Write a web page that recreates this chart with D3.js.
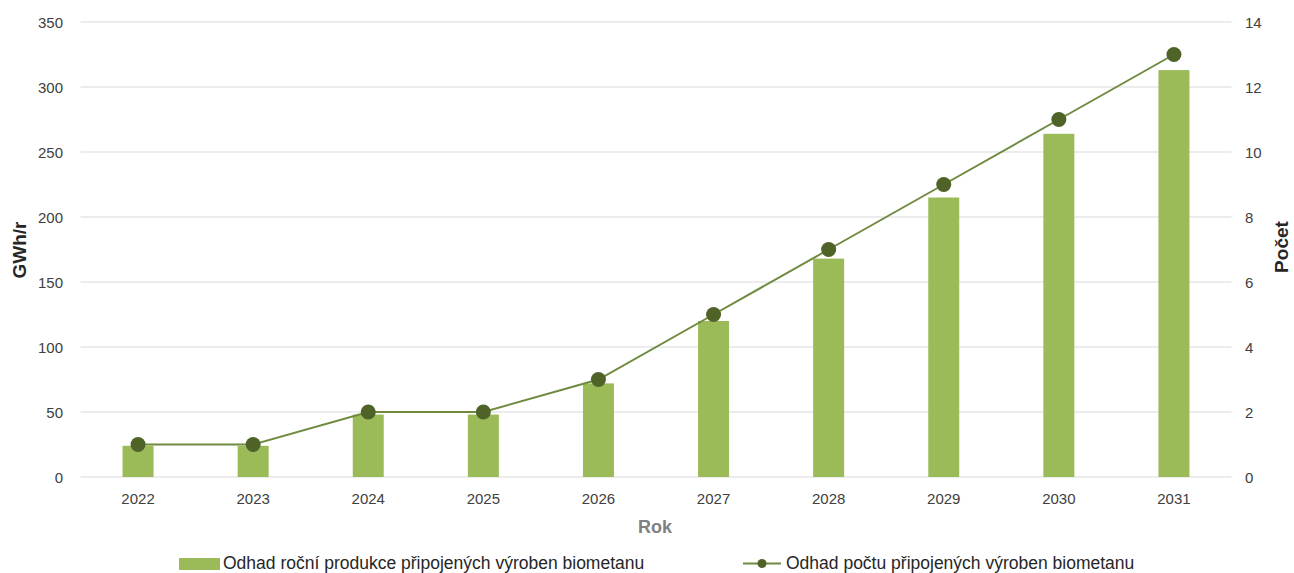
<!DOCTYPE html>
<html lang="cs">
<head>
<meta charset="UTF-8" />
<title>Biometan</title>
<script src="https://cdnjs.cloudflare.com/ajax/libs/d3/7.8.5/d3.min.js"></script>
<style>
  * { margin: 0; padding: 0; }
  body { background: #fff; font-family: 'Liberation Sans', Arial, sans-serif; }
  svg text { font-family: 'Liberation Sans', Arial, sans-serif; }
</style>
</head>
<body>
<svg id="chart" width="1294" height="573"></svg>
<script>
  // data
  const years = ["2022","2023","2024","2025","2026","2027","2028","2029","2030","2031"];
  const production = [24, 24, 48, 48, 72, 120, 168, 215, 264, 313];
  const plants = [1, 1, 2, 2, 3, 5, 7, 9, 11, 13];
  const leftTicks = [0, 50, 100, 150, 200, 250, 300, 350];
  const rightTicks = [0, 2, 4, 6, 8, 10, 12, 14];

  const barColor = "#9bbb59", lineColor = "#6f8a3e", dotColor = "#4f6228";
  const svg = d3.select("#chart");
  const m = {left: 80.5, right: 1231.5, top: 22, bottom: 477};

  const x = d3.scaleBand().domain(years).range([m.left, m.right]);
  const yL = d3.scaleLinear().domain([0, 350]).range([m.bottom, m.top]);
  const yR = d3.scaleLinear().domain([0, 14]).range([m.bottom, m.top]);

  // gridlines
  svg.append("g").selectAll("line").data(leftTicks).enter().append("line")
    .attr("x1", m.left).attr("x2", m.right)
    .attr("y1", d => yL(d)).attr("y2", d => yL(d))
    .attr("stroke", "#d9d9d9").attr("stroke-width", 1);

  // left axis
  const gl = svg.append("g").attr("transform", `translate(63,0)`)
    .call(d3.axisLeft(yL).tickValues(leftTicks).tickSize(0).tickPadding(0));
  gl.select(".domain").remove();
  gl.selectAll("text").attr("font-size", 15).attr("fill", "#404040").attr("dy", "0.35em");

  // right axis
  const gr = svg.append("g").attr("transform", `translate(1245,0)`)
    .call(d3.axisRight(yR).tickValues(rightTicks).tickSize(0).tickPadding(0));
  gr.select(".domain").remove();
  gr.selectAll("text").attr("font-size", 15).attr("fill", "#404040").attr("dy", "0.35em");

  // bottom axis
  const gx = svg.append("g").attr("transform", `translate(0,504)`)
    .call(d3.axisBottom(x).tickSize(0).tickPadding(0));
  gx.select(".domain").remove();
  gx.selectAll("text").attr("font-size", 15).attr("fill", "#404040").attr("dy", "0");

  // bars
  const bw = 31;
  svg.append("g").selectAll("rect").data(production).enter().append("rect")
    .attr("x", (d, i) => x(years[i]) + x.bandwidth() / 2 - bw / 2)
    .attr("width", bw)
    .attr("y", d => yL(d))
    .attr("height", d => yL(0) - yL(d))
    .attr("fill", barColor);

  // line
  const line = d3.line()
    .x((d, i) => x(years[i]) + x.bandwidth() / 2)
    .y(d => yR(d));
  svg.append("path").datum(plants)
    .attr("d", line).attr("fill", "none")
    .attr("stroke", lineColor).attr("stroke-width", 2);
  svg.append("g").selectAll("circle").data(plants).enter().append("circle")
    .attr("cx", (d, i) => x(years[i]) + x.bandwidth() / 2)
    .attr("cy", d => yR(d))
    .attr("r", 7.5)
    .attr("fill", dotColor);

  // axis titles
  svg.append("text")
    .attr("transform", `translate(26,250) rotate(-90)`)
    .attr("text-anchor", "middle")
    .attr("font-size", 19).attr("font-weight", "bold").attr("fill", "#262626")
    .text("GWh/r");
  svg.append("text")
    .attr("transform", `translate(1288,247) rotate(-90)`)
    .attr("text-anchor", "middle")
    .attr("font-size", 19).attr("font-weight", "bold").attr("fill", "#262626")
    .text("Počet");
  svg.append("text")
    .attr("x", 655).attr("y", 533)
    .attr("text-anchor", "middle")
    .attr("font-size", 18).attr("font-weight", "bold").attr("fill", "#808080")
    .text("Rok");

  // legend
  const lg = svg.append("g").attr("font-size", 17.5).attr("fill", "#262626");
  lg.append("rect").attr("x", 179).attr("y", 558).attr("width", 41).attr("height", 12).attr("fill", barColor);
  lg.append("text").attr("x", 223).attr("y", 569).text("Odhad roční produkce připojených výroben biometanu");
  lg.append("line").attr("x1", 743).attr("x2", 781).attr("y1", 563.5).attr("y2", 563.5)
    .attr("stroke", lineColor).attr("stroke-width", 2);
  lg.append("circle").attr("cx", 762).attr("cy", 563.5).attr("r", 4.5).attr("fill", dotColor);
  lg.append("text").attr("x", 786).attr("y", 569).text("Odhad počtu připojených výroben biometanu");
</script>
</body>
</html>
